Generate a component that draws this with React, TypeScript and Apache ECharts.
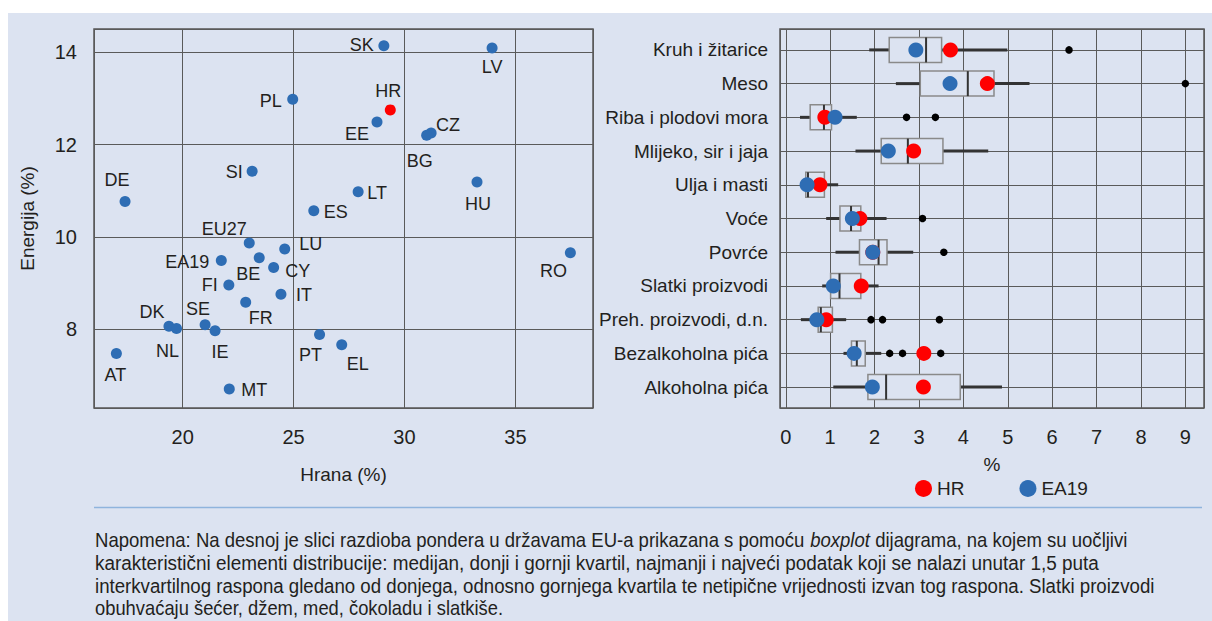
import React, { useEffect, useRef } from 'react';
import * as echarts from 'echarts';

const FONT = "'Liberation Sans', Arial, sans-serif";
const TEXT = '#231f20';
const BLUE = '#2e6db4';
const RED = '#ff0000';
const BG = '#dce3f1';

// ---- Left panel: food vs energy weights (%) ----
const countries = ['SK', 'LV', 'PL', 'HR', 'EE', 'CZ', 'BG', 'SI', 'DE', 'LT', 'HU', 'ES', 'EU27', 'LU', 'EA19', 'BE', 'CY', 'FI', 'IT', 'FR', 'DK', 'NL', 'SE', 'IE', 'PT', 'EL', 'AT', 'MT', 'RO'];
const foodShare = [29.07, 33.95, 24.96, 29.36, 28.76, 31.2, 31.0, 23.13, 17.4, 27.91, 33.27, 25.91, 23.0, 24.6, 21.74, 23.45, 24.1, 22.08, 24.43, 22.84, 19.38, 19.72, 21.01, 21.46, 26.17, 27.17, 17.01, 22.1, 37.48];
const energyShare = [14.14, 14.09, 12.98, 12.75, 12.49, 12.25, 12.2, 11.42, 10.77, 10.98, 11.19, 10.57, 9.87, 9.74, 9.49, 9.55, 9.34, 8.96, 8.76, 8.59, 8.07, 8.02, 8.1, 7.97, 7.89, 7.67, 7.48, 6.71, 9.66];

// label offsets (px from point centre) — style only
const labelOffset: Record<string, [number, number]> = {
  SK: [-22, -1], LV: [0, 19], PL: [-22, 2], HR: [-2, -19], EE: [-20, 12], CZ: [17, -8],
  BG: [-7, 26], SI: [-18, 1], DE: [-8, -21], LT: [19, 1], HU: [1, 22], ES: [22, 1],
  EU27: [-25, -14], LU: [26, -5], EA19: [-34, 1], BE: [-11, 16], CY: [24, 4], FI: [-19, 0],
  IT: [23, 1], FR: [15, 16], DK: [-17, -14], NL: [-9, 22], SE: [-7, -16], IE: [5, 21],
  PT: [-9, 20], EL: [16, 19], AT: [-1, 22], MT: [25, 1], RO: [-17, 18],
};

// ---- Right panel: distribution of weights by category (%) ----
const categories = ['Kruh i žitarice', 'Meso', 'Riba i plodovi mora', 'Mlijeko, sir i jaja', 'Ulja i masti', 'Voće', 'Povrće', 'Slatki proizvodi', 'Preh. proizvodi, d.n.', 'Bezalkoholna pića', 'Alkoholna pića'];
const whiskerLow = [1.88, 2.48, 0.32, 1.57, 0.44, 0.91, 1.12, 0.82, 0.34, 1.30, 1.07];
const quartile1 = [2.33, 3.03, 0.55, 2.15, 0.45, 1.22, 1.66, 1.01, 0.73, 1.48, 1.85];
const medianVal = [3.16, 4.10, 0.86, 2.75, 0.50, 1.47, 2.09, 1.21, 0.79, 1.60, 2.26];
const quartile3 = [3.51, 4.69, 1.03, 3.54, 0.87, 1.69, 2.28, 1.69, 1.05, 1.79, 3.93];
const whiskerHigh = [4.99, 5.49, 1.60, 4.56, 1.18, 2.27, 2.87, 2.09, 1.36, 2.15, 4.87];
const outlierValues = [6.38, 9.0, 2.72, 3.37, 3.08, 3.56, 1.92, 2.18, 3.46, 2.34, 2.63, 3.49];
const outlierCategory = [0, 1, 2, 2, 5, 6, 8, 8, 8, 9, 9, 9];
const hrWeights = [3.71, 4.54, 0.88, 2.88, 0.77, 1.67, 1.96, 1.70, 0.91, 3.11, 3.10];
const ea19Weights = [2.93, 3.70, 1.11, 2.31, 0.48, 1.50, 1.96, 1.07, 0.70, 1.54, 1.95];

const noteLines = [
  'Napomena: Na desnoj je slici razdioba pondera u državama EU-a prikazana s pomoću {i|boxplot} dijagrama, na kojem su uočljivi',
  'karakteristični elementi distribucije: medijan, donji i gornji kvartil, najmanji i najveći podatak koji se nalazi unutar 1,5 puta',
  'interkvartilnog raspona gledano od donjega, odnosno gornjega kvartila te netipične vrijednosti izvan tog raspona. Slatki proizvodi',
  'obuhvaćaju šećer, džem, med, čokoladu i slatkiše.',
];
// right end (px) of each note line in the layout
const noteLineEnd = [1128, 1099, 1155, 503];
const NOTE_LEFT = 95;
const NOTE_SIZE = 20;

const isInt = (v: number) => Math.abs(v - Math.round(v)) < 1e-6;

function measure(text: string, size: number): number {
  const c = document.createElement('canvas').getContext('2d');
  if (!c) return text.length * size * 0.5;
  c.font = `${size}px ${FONT}`;
  return c.measureText(text.replace(/\{i\|([^}]*)\}/g, '$1')).width;
}

export default function App() {
  const ref = useRef<HTMLDivElement>(null);
  useEffect(() => {
    if (!ref.current) return;
    const chart = echarts.init(ref.current, null, { renderer: 'svg' });
    const axisLabel = { color: TEXT, fontFamily: FONT, fontSize: 20 };
    const splitLine = { show: true, lineStyle: { color: '#5a5a5a', width: 1 } };

    const option: any = {
      animation: false,
      backgroundColor: 'transparent',
      textStyle: { fontFamily: FONT, color: TEXT },
      grid: [
        { left: 94, top: 29, width: 499, height: 379, show: true, borderColor: '#555', borderWidth: 1.5, backgroundColor: 'transparent' },
        { left: 780, top: 29, width: 424, height: 379, show: true, borderColor: '#555', borderWidth: 1.5, backgroundColor: 'transparent' },
      ],
      xAxis: [
        {
          gridIndex: 0, type: 'value', min: 16, max: 38.5, minInterval: 5, maxInterval: 5, splitNumber: 5,
          axisLine: { show: false }, axisTick: { show: false }, splitLine,
          axisLabel: { ...axisLabel, margin: 19, showMinLabel: false, showMaxLabel: false, formatter: (v: number) => (v % 5 === 0 ? String(v) : '') },
          name: 'Hrana (%)', nameLocation: 'middle', nameGap: 57,
          nameTextStyle: { color: TEXT, fontFamily: FONT, fontSize: 19 },
        },
        {
          gridIndex: 1, type: 'value', min: -0.13, max: 9.42, minInterval: 1, maxInterval: 1, splitNumber: 10,
          axisLine: { show: false }, axisTick: { show: false }, splitLine,
          axisLabel: { ...axisLabel, margin: 19, showMinLabel: false, showMaxLabel: false, formatter: (v: number) => (isInt(v) ? String(Math.round(v)) : '') },
          name: '%', nameLocation: 'middle', nameGap: 47,
          nameTextStyle: { color: TEXT, fontFamily: FONT, fontSize: 19 },
        },
      ],
      yAxis: [
        {
          gridIndex: 0, type: 'value', min: 6.3, max: 14.5, minInterval: 2, maxInterval: 2, splitNumber: 4,
          axisLine: { show: false }, axisTick: { show: false }, splitLine,
          axisLabel: { ...axisLabel, margin: 17, showMinLabel: false, showMaxLabel: false, formatter: (v: number) => (isInt(v) && Math.round(v) % 2 === 0 ? String(Math.round(v)) : '') },
          name: 'Energija (%)', nameLocation: 'middle', nameGap: 57,
          nameTextStyle: { color: TEXT, fontFamily: FONT, fontSize: 19 },
        },
        {
          gridIndex: 1, type: 'value', inverse: true, min: -0.62, max: 10.62, minInterval: 1, maxInterval: 1, splitNumber: 11,
          axisLine: { show: false }, axisTick: { show: false }, splitLine,
          axisLabel: {
            ...axisLabel, fontSize: 19, margin: 12, showMinLabel: false, showMaxLabel: false,
            formatter: (v: number) => (isInt(v) && v >= 0 && v <= 10 ? categories[Math.round(v)] : ''),
          },
        },
      ],
      legend: {
        data: ['HR', 'EA19'], left: 915, top: 479, itemGap: 55, itemWidth: 17, itemHeight: 17, padding: 0,
        icon: 'circle', textStyle: { color: TEXT, fontFamily: FONT, fontSize: 19 },
      },
      graphic: [
        { type: 'line', silent: true, shape: { x1: 94, y1: 507.5, x2: 1202, y2: 507.5 }, style: { stroke: '#8fb4dd', lineWidth: 1.5 } },
        ...noteLines.map((t, i) => {
          const w = measure(t, NOTE_SIZE);
          const sx = w > 0 ? (noteLineEnd[i] - NOTE_LEFT) / w : 1;
          return {
            type: 'text', silent: true, x: NOTE_LEFT, y: 540 + i * 22.8, scaleX: sx, scaleY: 1,
            style: {
              text: t, fill: TEXT, fontFamily: FONT, fontSize: NOTE_SIZE, verticalAlign: 'middle',
              rich: { i: { fontStyle: 'italic', fontFamily: FONT, fontSize: NOTE_SIZE, fill: TEXT } },
            },
          };
        }),
      ],
      series: [
        {
          name: 'zemlje', type: 'scatter', xAxisIndex: 0, yAxisIndex: 0, symbolSize: 11,
          data: countries.map((c, i) => ({
            value: [foodShare[i], energyShare[i]], name: c,
            itemStyle: { color: c === 'HR' ? RED : BLUE, opacity: 1 },
            label: { offset: labelOffset[c] || [0, 0] },
          })),
          label: {
            show: true, position: 'inside', color: TEXT, fontFamily: FONT, fontSize: 18,
            formatter: (p: any) => p.name,
          },
        },
        {
          name: 'box', type: 'custom', xAxisIndex: 1, yAxisIndex: 1, silent: true,
          encode: { x: [1, 2, 3, 4, 5], y: 0 },
          data: categories.map((_, i) => [i, whiskerLow[i], quartile1[i], medianVal[i], quartile3[i], whiskerHigh[i]]),
          renderItem: (params: any, api: any) => {
            const idx = api.value(0);
            const lo = api.coord([api.value(1), idx]);
            const q1 = api.coord([api.value(2), idx]);
            const md = api.coord([api.value(3), idx]);
            const q3 = api.coord([api.value(4), idx]);
            const hi = api.coord([api.value(5), idx]);
            const h = 25;
            const y = q1[1];
            return {
              type: 'group',
              children: [
                { type: 'line', shape: { x1: lo[0], y1: y, x2: q1[0], y2: y }, style: { stroke: '#333', lineWidth: 3 } },
                { type: 'line', shape: { x1: q3[0], y1: y, x2: hi[0], y2: y }, style: { stroke: '#333', lineWidth: 3 } },
                { type: 'rect', shape: { x: q1[0], y: y - h / 2, width: q3[0] - q1[0], height: h }, style: { fill: BG, stroke: '#8a8a8a', lineWidth: 1.5 } },
                { type: 'line', shape: { x1: md[0], y1: y - h / 2, x2: md[0], y2: y + h / 2 }, style: { stroke: '#333', lineWidth: 2 } },
              ],
            };
          },
        },
        {
          name: 'outliers', type: 'scatter', xAxisIndex: 1, yAxisIndex: 1, symbolSize: 7.5, z: 3,
          itemStyle: { color: '#000', opacity: 1 },
          data: outlierValues.map((v, i) => [v, outlierCategory[i]]),
        },
        {
          name: 'HR', type: 'scatter', xAxisIndex: 1, yAxisIndex: 1, symbolSize: 15, z: 4,
          itemStyle: { color: RED, opacity: 1 },
          data: hrWeights.map((v, i) => [v, i]),
        },
        {
          name: 'EA19', type: 'scatter', xAxisIndex: 1, yAxisIndex: 1, symbolSize: 15, z: 5,
          itemStyle: { color: BLUE, opacity: 1 },
          data: ea19Weights.map((v, i) => [v, i]),
        },
      ],
    };
    chart.setOption(option);
    return () => chart.dispose();
  }, []);

  return (
    <div style={{ position: 'fixed', left: 0, top: 0, width: 1212, height: 621, background: '#ffffff', overflow: 'hidden' }}>
      <div style={{ position: 'absolute', left: 8, top: 13, width: 1204, height: 608, background: BG }} />
      <div ref={ref} style={{ position: 'absolute', left: 0, top: 0, width: 1212, height: 621 }} />
    </div>
  );
}
